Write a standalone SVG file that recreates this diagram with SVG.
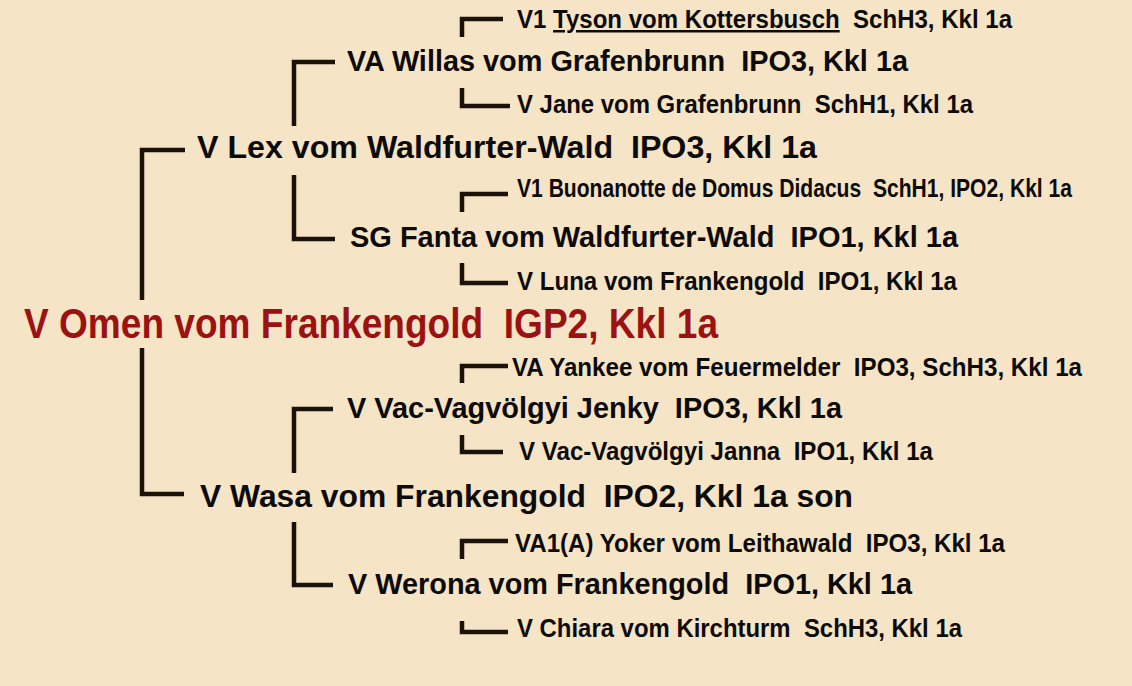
<svg xmlns="http://www.w3.org/2000/svg" width="1132" height="686" viewBox="0 0 1132 686" xml:space="preserve">
<style>
text{font-family:"Liberation Sans",Arial,sans-serif;font-weight:bold;fill:#0d0b09;white-space:pre}
.l0{font-size:42px;fill:#9c1212}
.l1{font-size:32px}
.l2{font-size:29px}
.l3{font-size:25px}
.u{text-decoration:underline}
#connectors path{fill:none;stroke:#1b120b;stroke-width:4.5;stroke-linejoin:miter;stroke-linecap:butt}
</style>
<rect width="1132" height="686" fill="#f5e4c6"/>
<g id="connectors">
<path d="M185,150 H142 V300"/>
<path d="M142,348 V494 H184"/>
<path d="M335,62 H294 V126"/>
<path d="M294,175 V239 H335"/>
<path d="M333,409 H294 V473"/>
<path d="M294,522 V585 H333"/>
<path d="M503,19 H462 V37"/>
<path d="M462,88 V106 H510"/>
<path d="M508,194 H462 V212"/>
<path d="M462,263 V283 H508"/>
<path d="M508,366 H462 V383"/>
<path d="M462,435 V452 H503"/>
<path d="M508,541 H462 V559"/>
<path d="M462,621 V632 H508"/>
</g>
<g id="omen"><text class="l0" x="24" y="338" textLength="694" lengthAdjust="spacingAndGlyphs">V Omen vom Frankengold  IGP2, Kkl 1a</text></g>
<g id="lex"><text class="l1" x="197" y="158" textLength="620" lengthAdjust="spacingAndGlyphs">V Lex vom Waldfurter-Wald  IPO3, Kkl 1a</text></g>
<g id="wasa"><text class="l1" x="200" y="507" textLength="653" lengthAdjust="spacingAndGlyphs">V Wasa vom Frankengold  IPO2, Kkl 1a son</text></g>
<g id="willas"><text class="l2" x="347" y="71" textLength="561" lengthAdjust="spacingAndGlyphs">VA Willas vom Grafenbrunn  IPO3, Kkl 1a</text></g>
<g id="fanta"><text class="l2" x="350" y="247" textLength="608" lengthAdjust="spacingAndGlyphs">SG Fanta vom Waldfurter-Wald  IPO1, Kkl 1a</text></g>
<g id="jenky"><text class="l2" x="347" y="418" textLength="495" lengthAdjust="spacingAndGlyphs">V Vac-Vagvölgyi Jenky  IPO3, Kkl 1a</text></g>
<g id="werona"><text class="l2" x="348" y="594" textLength="564" lengthAdjust="spacingAndGlyphs">V Werona vom Frankengold  IPO1, Kkl 1a</text></g>
<g id="tyson"><text class="l3" x="517" y="28" textLength="495" lengthAdjust="spacingAndGlyphs">V1 <tspan class="u">Tyson vom Kottersbusch</tspan>  SchH3, Kkl 1a</text></g>
<g id="jane"><text class="l3" x="517" y="113" textLength="456" lengthAdjust="spacingAndGlyphs">V Jane vom Grafenbrunn  SchH1, Kkl 1a</text></g>
<g id="buonanotte"><text class="l3" x="517" y="197" textLength="555" lengthAdjust="spacingAndGlyphs">V1 Buonanotte de Domus Didacus  SchH1, IPO2, Kkl 1a</text></g>
<g id="luna"><text class="l3" x="517" y="290" textLength="440" lengthAdjust="spacingAndGlyphs">V Luna vom Frankengold  IPO1, Kkl 1a</text></g>
<g id="yankee"><text class="l3" x="512" y="376" textLength="570" lengthAdjust="spacingAndGlyphs">VA Yankee vom Feuermelder  IPO3, SchH3, Kkl 1a</text></g>
<g id="janna"><text class="l3" x="519" y="460" textLength="414" lengthAdjust="spacingAndGlyphs">V Vac-Vagvölgyi Janna  IPO1, Kkl 1a</text></g>
<g id="yoker"><text class="l3" x="515" y="552" textLength="490" lengthAdjust="spacingAndGlyphs">VA1(A) Yoker vom Leithawald  IPO3, Kkl 1a</text></g>
<g id="chiara"><text class="l3" x="517" y="637" textLength="445" lengthAdjust="spacingAndGlyphs">V Chiara vom Kirchturm  SchH3, Kkl 1a</text></g>
</svg>
